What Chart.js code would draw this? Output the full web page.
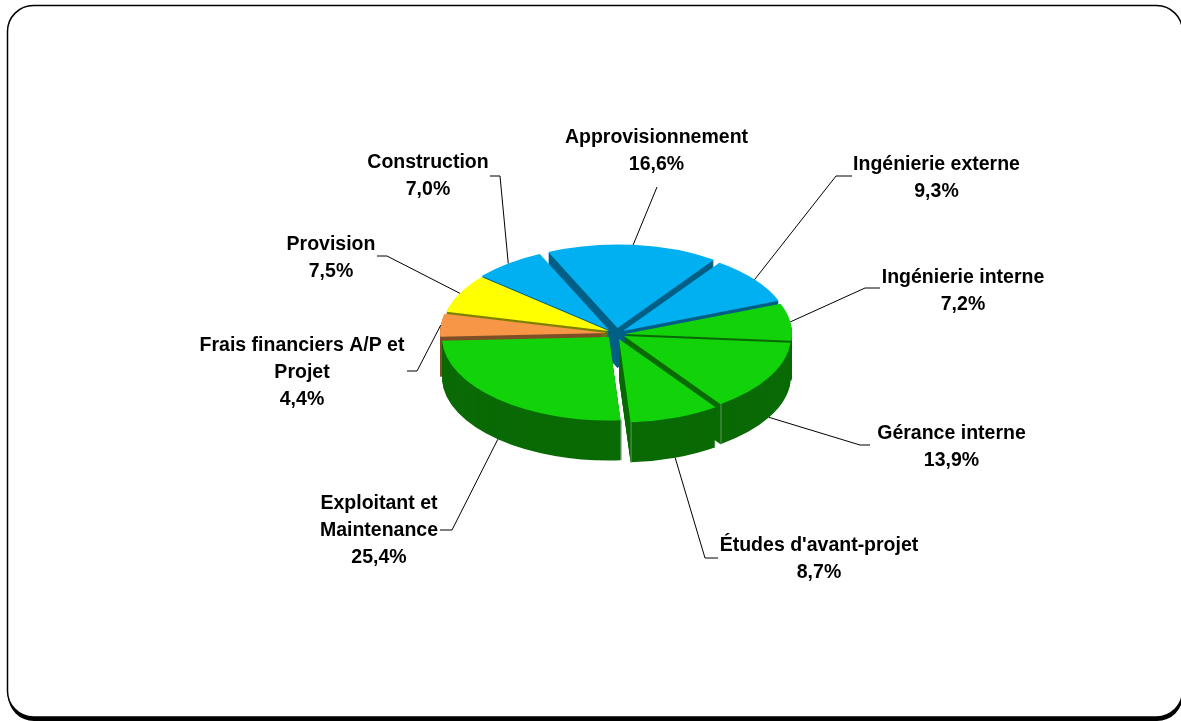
<!DOCTYPE html>
<html lang="fr">
<head>
<meta charset="utf-8">
<style>html,body{margin:0;padding:0;background:#fff}canvas{display:block}</style>
<script src="https://cdn.jsdelivr.net/npm/chart.js@4"></script>
</head>
<body>
<canvas id="c" width="1181" height="721"></canvas>
<script>
// Data
const categories = ["Approvisionnement","Ingénierie externe","Ingénierie interne","Gérance interne","Études d'avant-projet","Exploitant et Maintenance","Frais financiers A/P et Projet","Provision","Construction"];
const shares = [16.6,9.3,7.2,13.9,8.7,25.4,4.4,7.5,7.0];
const shareLabels = ["16,6%","9,3%","7,2%","13,9%","8,7%","25,4%","4,4%","7,5%","7,0%"];
const labelLines = [["Approvisionnement"],["Ingénierie externe"],["Ingénierie interne"],["Gérance interne"],["Études d'avant-projet"],["Exploitant et","Maintenance"],["Frais financiers A/P et","Projet"],["Provision"],["Construction"]];

// Styles and layout
const topColors = ["#00B0F0","#00B0F0","#12D30A","#12D30A","#12D30A","#12D30A","#F79646","#FFFF00","#00B0F0"];
const sideColors = ["#005F86","#005F86","#0A6A05","#0A6A05","#0A6A05","#0A6A05","#7F4F27","#808000","#005F86"];
const explodeX = [0.5,6,8,7,2,-8,-10,-8,-8];
const explodeY = [-4,-1,2,4,7,5,1,-1,-2];
const drawOrder = [0,8,1,7,2,6,3,5,4];
const labelCenterX = [656.5,936.5,963,951.5,819,379,302,331,428];
const labelTopY = [138,165,278,434,546,504,346,245,163];
const elbows = [[657,187],[836,176],[865,288],[860,445],[705,558],[452,530],[417,371],[387,256],[500,176]];
const tails = [null,[852,176],[880,288],[870,445],[718,558],[440,530],[407,371],[377,256],[490,176]];
const squash = 0.5, depth = 40, lineGap = 27;

const pie3d = {
  id:'pie3d',
  beforeDraw(chart){
    const g = chart.ctx;
    g.save();
    g.fillStyle='#fff'; g.fillRect(0,0,1181,721);
    g.fillStyle='#000';
    g.beginPath(); g.roundRect(8,9,1175,712,26); g.fill();
    g.fillStyle='#fff'; g.strokeStyle='#000'; g.lineWidth=1.5;
    g.beginPath(); g.roundRect(7.5,5.5,1175,711.5,26); g.fill(); g.stroke();
    g.restore();
  },
  beforeDatasetsDraw(chart){
    const g = chart.ctx, arcs = chart.getDatasetMeta(0).data;
    const cx = arcs[0].x, cy = arcs[0].y;
    const place = (i,dy)=>{
      g.save();
      g.translate(explodeX[i], explodeY[i]+dy);
      g.translate(cx,cy); g.scale(1,squash); g.translate(-cx,-cy);
    };
    const corner = (el,i,angle)=>{
      const x=el.x+explodeX[i]+el.outerRadius*Math.cos(angle)+0.5;
      const y=el.y+explodeY[i]+el.outerRadius*Math.sin(angle)*squash;
      g.save(); g.strokeStyle='#5F9A5C'; g.lineWidth=1;
      g.beginPath(); g.moveTo(x,y); g.lineTo(x,y+depth); g.stroke(); g.restore();
    };
    drawOrder.forEach(i=>{
      const el = arcs[i], base = el.options;
      el.options = Object.create(base,{backgroundColor:{value:sideColors[i]},borderColor:{value:sideColors[i]}});
      for(let d=depth;d>=1;d--){ place(i,d); el.draw(g); g.restore(); }
      el.options = base;
      if(i===3) corner(el,i,el.endAngle);
      if(i===4) corner(el,i,el.endAngle);
      if(i===5) corner(el,i,el.startAngle);
      place(i,0); el.draw(g); g.restore();
    });
    return false;
  },
  afterDraw(chart){
    const g = chart.ctx, arcs = chart.getDatasetMeta(0).data;
    g.save();
    g.strokeStyle='#000'; g.lineWidth=1;
    arcs.forEach((el,i)=>{
      const mid=(el.startAngle+el.endAngle)/2;
      const sx=Math.sin(mid), ax=el.x+explodeX[i]+el.outerRadius*Math.cos(mid);
      let ay=el.y+explodeY[i]+el.outerRadius*sx*squash;
      if(sx>0.3) ay+=depth;
      g.beginPath(); g.moveTo(ax,ay); g.lineTo(elbows[i][0],elbows[i][1]);
      if(tails[i]) g.lineTo(tails[i][0],tails[i][1]);
      g.stroke();
    });
    g.fillStyle='#000'; g.font='bold 19.5px "Liberation Sans"';
    g.textAlign='center'; g.textBaseline='middle';
    labelLines.forEach((lines,i)=>{
      lines.concat(shareLabels[i]).forEach((t,j)=>g.fillText(t,labelCenterX[i],labelTopY[i]+j*lineGap));
    });
    g.restore();
  }
};

new Chart(document.getElementById('c'),{
  type:'pie',
  data:{labels:categories,datasets:[{data:shares,backgroundColor:topColors,borderWidth:0}]},
  options:{
    responsive:false,animation:false,rotation:335.5,radius:167,
    layout:{padding:{left:117,right:64,top:0,bottom:57}},
    plugins:{legend:{display:false},tooltip:{enabled:false}},
    events:[]
  },
  plugins:[pie3d]
});
</script>
</body>
</html>
